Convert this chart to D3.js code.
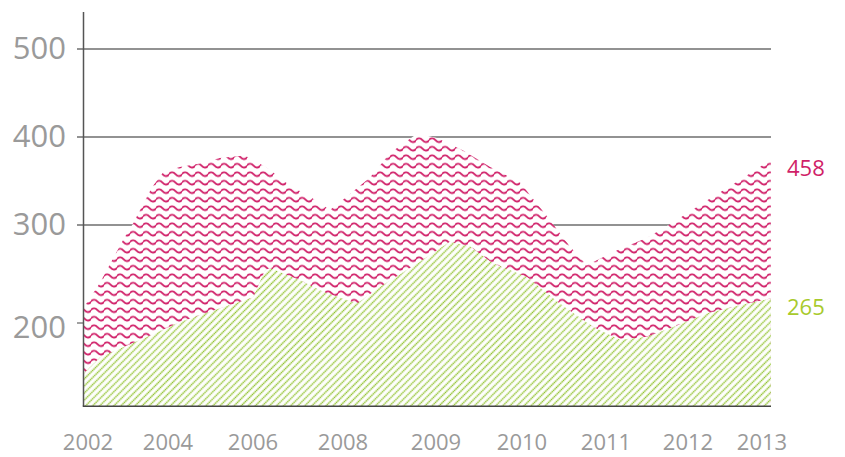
<!DOCTYPE html>
<html><head><meta charset="utf-8">
<script src="https://cdn.jsdelivr.net/npm/d3@7"></script>
<style>body{margin:0;background:#fff}svg{display:block}text{font-family:"Open Sans",sans-serif}</style>
</head><body><svg id="c" width="845" height="457"></svg>
<script>
// ---- data ----
const yearLabels = [2002, 2004, 2006, 2008, 2009, 2010, 2011, 2012, 2013];
const yTicks = [500, 400, 300, 200];
const gridValues = [500, 400, 300];
const yBase = 115;

const magentaYears = [2001.9,2002.3,2002.88,2003.13,2003.6,2003.88,2004.28,2004.75,2005.22,2005.81,2006.31,2006.82,2007.27,2007.71,2008.04,2008.29,2008.51,2008.8,2009.01,2009.31,2009.63,2009.98,2010.33,2010.57,2010.77,2011.13,2011.5,2011.82,2012.26,2012.7,2013.12];
const magentaValues = [216,241,285,302,343,360,366,370,376,379,365,345,332,317,332,354,382,404,399,385,366,348,306,278,259,274,287,303,328,351,374];

const greenYears = [2001.9,2002.3,2003.48,2004.28,2005.22,2006.0,2006.27,2006.38,2007.04,2007.56,2008.15,2008.4,2008.8,2009.16,2009.4,2009.66,2010.06,2010.45,2010.85,2011.17,2011.5,2011.82,2012.26,2012.7,2013.12];
const greenValues = [149,165,186,201,215,226,254,256,244,232,220,237,261,283,278,261,247,220,196,183,186,196,210,218,225];

const endLabels = [{text:"458", series:"magenta"}, {text:"265", series:"green"}];

// ---- layout ----
const svg = d3.select("#c");
const x = d3.scaleLinear().domain(yearLabels).range([88,168,253,343,436,522,606,688,762]);
const y = d3.scaleLinear().domain([200,300,400,500]).range([323,225,137,49]);
const left = 83.5, right = 771;

const MAG = "#d01f68", GRN = "#8fc12c";
const defs = svg.append("defs");
const pm = defs.append("pattern").attr("id","wave").attr("patternUnits","userSpaceOnUse")
  .attr("width",13).attr("height",8.5);
pm.append("rect").attr("width",13).attr("height",8.5).attr("fill","#fff");
pm.append("path").attr("d","M-0.5,4.2 Q3.25,0.2 6.5,4.2 Q9.75,8.2 13.5,4.2").attr("fill","none")
  .attr("stroke",MAG).attr("stroke-width",1.8);

const pg = defs.append("pattern").attr("id","diag").attr("patternUnits","userSpaceOnUse")
  .attr("width",5).attr("height",4).attr("patternTransform","rotate(45)");
pg.append("rect").attr("width",5).attr("height",4).attr("fill","#fff");
pg.append("line").attr("x1",2.5).attr("x2",2.5).attr("y1",0).attr("y2",4)
  .attr("stroke",GRN).attr("stroke-width",1.5).attr("stroke-dasharray","1.6,0.4");

// gridlines
svg.selectAll(".grid").data(gridValues).join("line")
  .attr("x1",77).attr("x2",right).attr("y1",d=>y(d)).attr("y2",d=>y(d))
  .attr("stroke","#6e6e6e").attr("stroke-width",1.3);
svg.append("line").attr("x1",77).attr("x2",left).attr("y1",y(200)).attr("y2",y(200))
  .attr("stroke","#6e6e6e").attr("stroke-width",1.3);

const area = d3.area().x(d=>x(d[0])).y0(y(yBase)).y1(d=>y(d[1])).curve(d3.curveLinear);
const mag = magentaYears.map((t,i)=>[t,magentaValues[i]]);
const grn = greenYears.map((t,i)=>[t,greenValues[i]]);
svg.append("path").attr("d",area(mag)).attr("fill","url(#wave)");
svg.append("path").attr("d",area(grn)).attr("fill","url(#diag)");

// axes lines
svg.append("line").attr("x1",left).attr("x2",left).attr("y1",12).attr("y2",y(yBase))
  .attr("stroke","#555").attr("stroke-width",1.5);
svg.append("line").attr("x1",left-0.75).attr("x2",right).attr("y1",y(yBase)).attr("y2",y(yBase))
  .attr("stroke","#444").attr("stroke-width",1.6);

// y labels
svg.selectAll(".yl").data(yTicks).join("text")
  .attr("x",66).attr("y",d=>y(d)+ (d===200?7:2)).attr("text-anchor","end")
  .attr("dominant-baseline","middle").attr("font-size",31).attr("fill","#9a9a9a").text(d=>d);

// x labels
svg.selectAll(".xl").data(yearLabels).join("text")
  .attr("x",d=>x(d)).attr("y",444).attr("text-anchor","middle")
  .attr("dominant-baseline","middle").attr("font-size",22).attr("fill","#9a9a9a").text(d=>d);

// end labels
svg.selectAll(".el").data(endLabels).join("text")
  .attr("x",787).attr("y",d=>d.series==="magenta"?170:309)
  .attr("dominant-baseline","middle").attr("font-size",22)
  .attr("fill",d=>d.series==="magenta"?MAG:"#a8ca2c").text(d=>d.text);
</script></body></html>
